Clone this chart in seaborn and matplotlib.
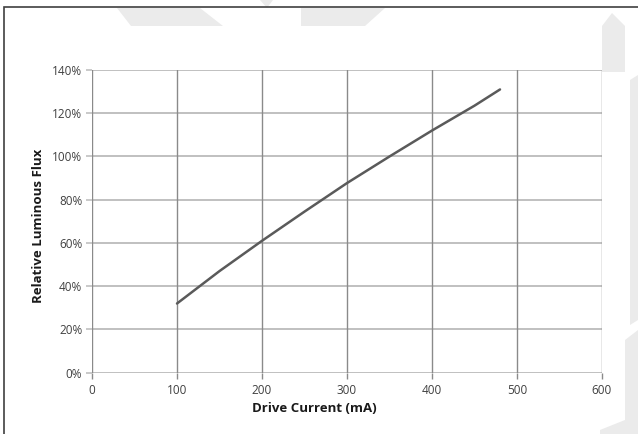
import matplotlib
matplotlib.use("Agg")
import matplotlib.pyplot as plt
from matplotlib.patches import Polygon, Rectangle
import seaborn as sns
import pandas as pd

# Data
drive_current_ma = [100, 150, 200, 250, 300, 350, 400, 450, 480]
relative_flux_pct = [32.0, 47.0, 61.0, 74.5, 87.7, 100.0, 112.0, 123.5, 131.0]
x_ticks = [0, 100, 200, 300, 400, 500, 600]
y_ticks = [0, 20, 40, 60, 80, 100, 120, 140]

sns.set_theme(style="white")
plt.rcParams['font.family'] = ['Open Sans', 'DejaVu Sans']

W, H = 638, 434
fig = plt.figure(figsize=(W / 100, H / 100), dpi=100)

# faint background decorations (figure pixel coords -> fraction)
def poly(pts, color="#ebebeb"):
    p = Polygon([(x / W, 1 - y / H) for x, y in pts], closed=True,
                transform=fig.transFigure, facecolor=color, edgecolor="none", zorder=0)
    fig.patches.append(p)

poly([(117, 8), (200, 8), (223, 26), (131, 26)])
poly([(260, 0), (273, 0), (267, 8)])
poly([(301, 8), (385, 8), (365, 26), (301, 26)])
poly([(602, 26), (612, 13), (625, 26), (625, 72), (602, 72)])
poly([(630, 80), (638, 75), (638, 320), (630, 325)])
poly([(600, 430), (625, 420), (625, 340), (638, 330), (638, 434), (600, 434)])

# frame border
fig.patches.append(Rectangle((4 / W, -0.1), 2, (1 - 7 / H) + 0.1,
                             transform=fig.transFigure, facecolor="none",
                             edgecolor="#404040", linewidth=1.2, zorder=1))

ax = fig.add_axes([92 / W, (H - 372.7) / H, 510 / W, (372.7 - 70) / H])
ax.set_facecolor("none")

df = pd.DataFrame({"Drive Current (mA)": drive_current_ma,
                   "Relative Luminous Flux": relative_flux_pct})
sns.lineplot(data=df, x="Drive Current (mA)", y="Relative Luminous Flux",
             ax=ax, color="#5a5a5a", linewidth=1.8, zorder=5)

ax.set_xlim(0, 600)
ax.set_ylim(0, 140)
ax.set_xticks(x_ticks)
ax.set_yticks(y_ticks)
ax.set_xticklabels([str(v) for v in x_ticks])
ax.set_yticklabels([f"{v}%" for v in y_ticks])

for s in ax.spines.values():
    s.set_visible(False)

for v in y_ticks:
    ax.axhline(v, color="#c0c0c0", linewidth=1.4, zorder=1)
for v in x_ticks:
    ax.axvline(v, color="#8a8a8a", linewidth=1.0, zorder=2)

ax.tick_params(axis="y", which="both", left=True, length=4, width=1.2,
               color="#c0c0c0", labelsize=8.5, labelcolor="#404040", pad=3)
ax.tick_params(axis="x", which="both", bottom=True, length=4, width=1.0,
               color="#8a8a8a", labelsize=8.5, labelcolor="#404040", pad=4)

ax.set_xlabel("Drive Current (mA)", fontsize=9.5, fontweight="bold", color="#1a1a1a")
ax.set_ylabel("Relative Luminous Flux", fontsize=9.5, fontweight="bold", color="#1a1a1a")
ax.xaxis.set_label_coords((255 + 373) / 2 / W * 0 + (314 - 92) / 510, -(408.7 - 372.7) / (372.7 - 70))
ax.yaxis.set_label_coords(-(92 - 38.5) / 510, (372.7 - (138 + 314) / 2) / (372.7 - 70))
ax.xaxis.label.set_va("center")
ax.yaxis.label.set_va("center")

fig.savefig("out.png", dpi=100)
